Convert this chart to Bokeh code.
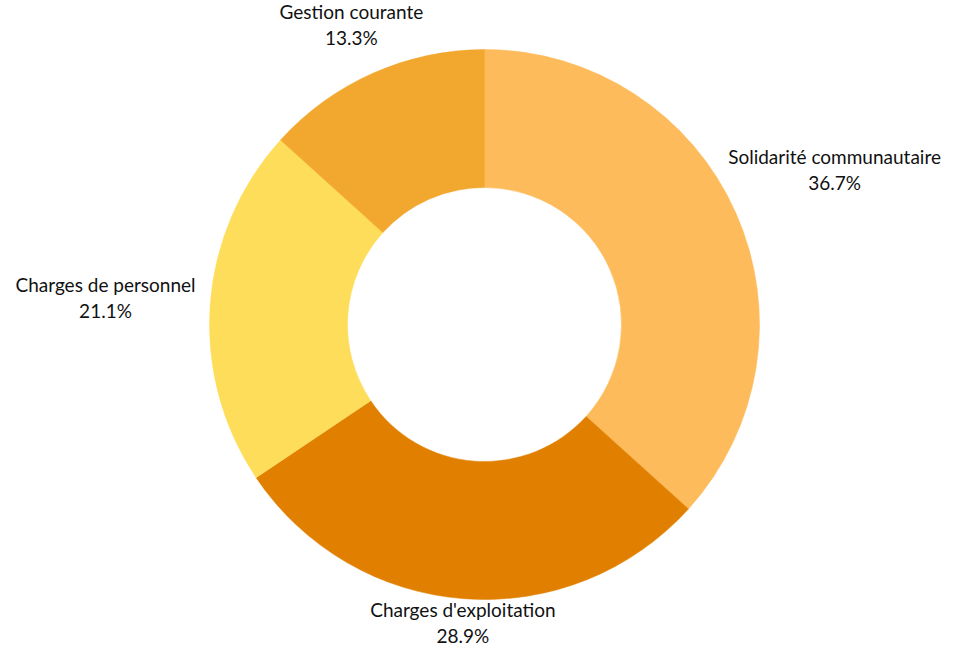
import math
from bokeh.plotting import figure
from bokeh.models import ColumnDataSource, Range1d
from bokeh.core.properties import value
from bokeh.embed import file_html
from bokeh.resources import INLINE

categories = ["Solidarité communautaire", "Charges d'exploitation", "Charges de personnel", "Gestion courante"]
shares = [36.7, 28.9, 21.1, 13.3]
colors = ["#FDBB5B", "#E18000", "#FEDD5A", "#F2A72E"]

# layout constants
W, H = 944, 646
CX, CY = 484, 322
R_OUT, R_IN = 275, 137
label_dist = [383, 299, 380, 328]

total = sum(shares)
starts, ends, mids = [], [], []
acc = 0.0
for s in shares:
    f0 = acc / total
    acc += s
    f1 = acc / total
    starts.append(math.pi / 2 - f0 * 2 * math.pi)
    ends.append(math.pi / 2 - f1 * 2 * math.pi)
    mids.append(math.pi / 2 - (f0 + f1) / 2 * 2 * math.pi)

src = ColumnDataSource(dict(
    x=[CX] * len(shares), y=[CY] * len(shares),
    start=starts, end=ends, color=colors,
))

lx = [CX + d * math.cos(a) for d, a in zip(label_dist, mids)]
ly = [CY + d * math.sin(a) for d, a in zip(label_dist, mids)]
pct = [f"{s:.1f}%" for s in shares]
lsrc = ColumnDataSource(dict(x=lx, y=ly, name=categories, pct=pct))

p = figure(width=W, height=H, output_backend="svg", toolbar_location=None,
           x_range=Range1d(0, W), y_range=Range1d(0, H), min_border=0)
p.axis.visible = False
p.grid.visible = False
p.outline_line_color = None
p.background_fill_color = "white"

p.annular_wedge(x="x", y="y", inner_radius=R_IN, outer_radius=R_OUT,
                start_angle="start", end_angle="end", direction="clock",
                fill_color="color", line_color="color", line_width=0.5, source=src)

common = dict(text_font=value("Lato"), text_font_size="19px", text_color="#111111",
              text_align="center", text_baseline="middle", source=lsrc)
p.text(x="x", y="y", text="name", y_offset=-13, **common)
p.text(x="x", y="y", text="pct", y_offset=13, **common)

open("out.html", "w").write(file_html(p, INLINE))
